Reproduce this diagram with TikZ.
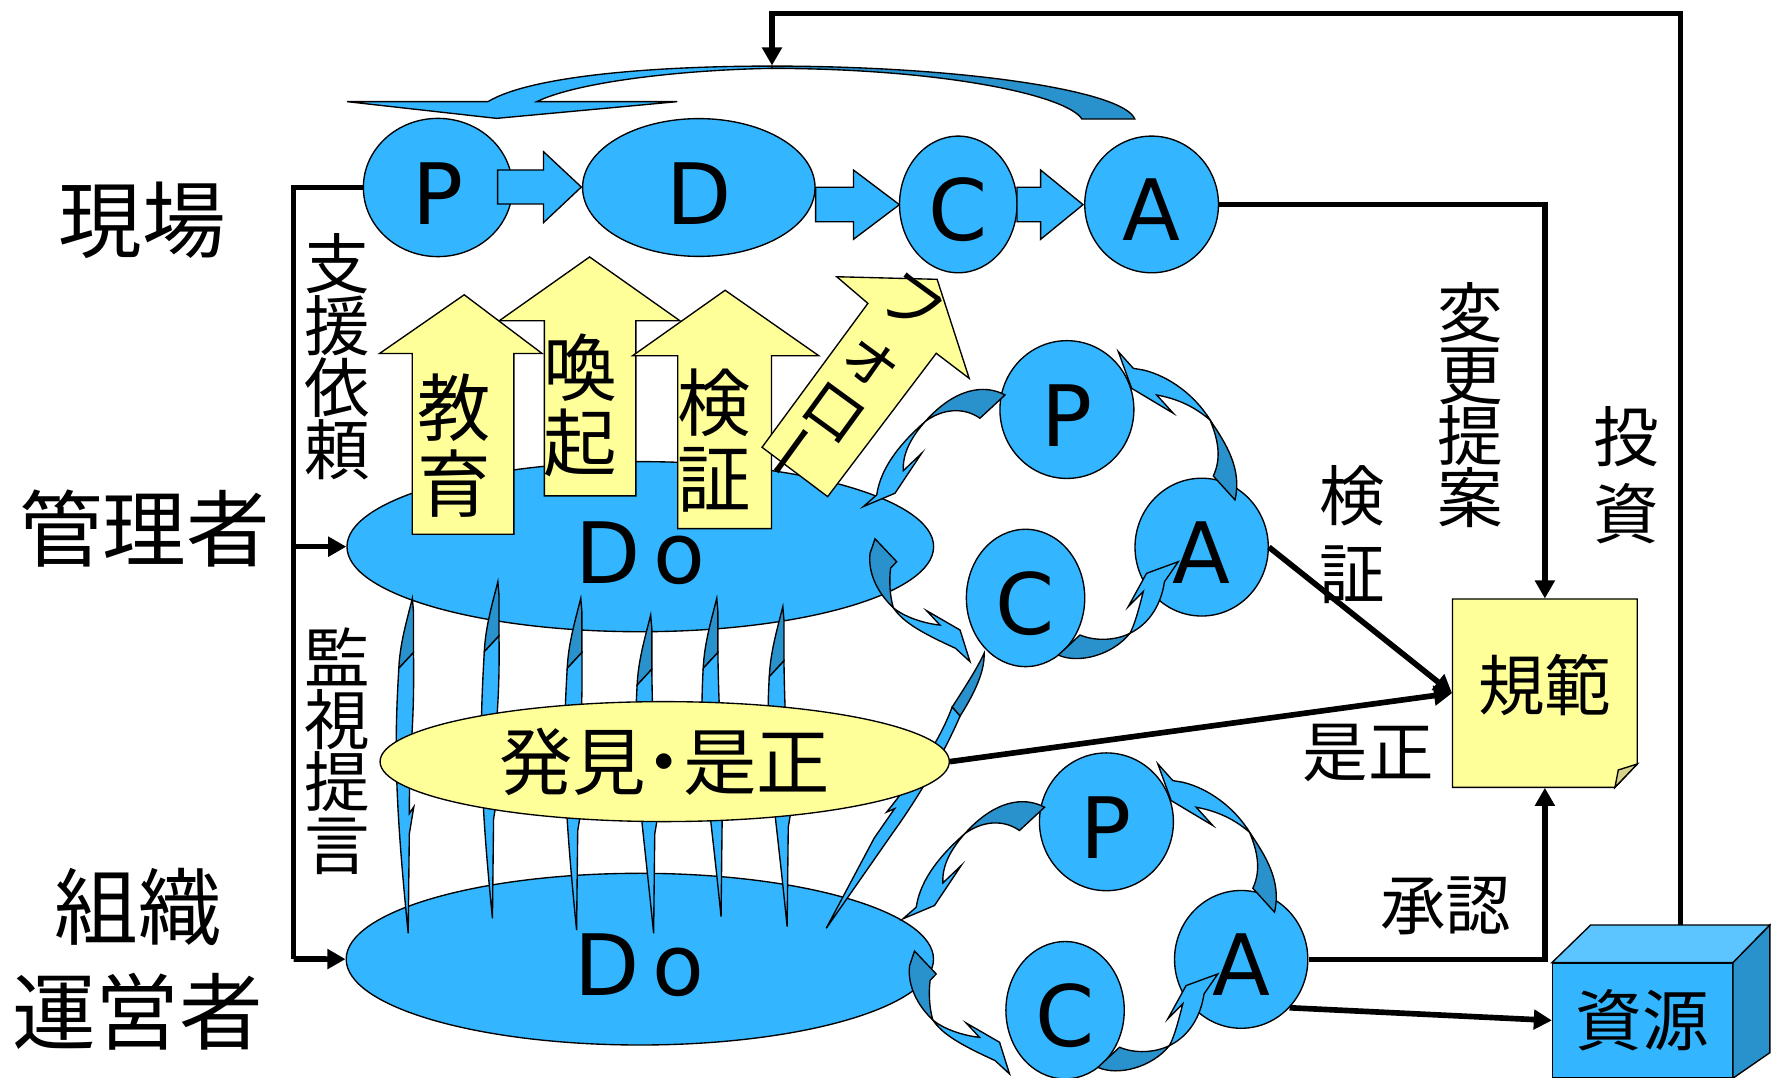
\documentclass[tikz,border=0pt]{standalone}
\usepackage{fontspec}
\newfontfamily\jp{Noto Sans CJK JP}
\newfontfamily\lat{DejaVu Sans}
\usetikzlibrary{shapes.geometric,arrows.meta,calc}

\definecolor{skyb}{RGB}{51,182,255}
\definecolor{deepb}{RGB}{41,145,204}
\definecolor{paleb}{RGB}{92,197,255}
\definecolor{lemon}{RGB}{255,255,153}
\definecolor{foldc}{RGB}{214,211,140}

\newcommand\ltrfont{\lat\fontsize{37.5}{37.5}\selectfont}
\newcommand\ltr[1]{\raisebox{-2.5pt}[\height][\depth]{#1}}

\tikzset{
  ell/.style={ellipse, draw=black, line width=0.6pt, fill=skyb, inner sep=0pt},
  shp/.style={draw=black, line width=0.6pt},
  conn/.style={draw=black, line width=2.5pt},
  arr/.style={conn, -{Triangle[length=8pt,width=8.5pt]}},
  lblL/.style={font=\jp\fontsize{37}{37}\selectfont, inner sep=0pt},
  lblM/.style={font=\jp\fontsize{29}{29}\selectfont, inner sep=0pt, align=center},
  lblA/.style={font=\jp\fontsize{32.5}{33.5}\selectfont, inner sep=0pt, align=center},
}

% thin double sliver joining the two Do discs
\newcommand\spike[4]{%
  \filldraw[shp, fill=deepb] (#1,#2) .. controls ({#1-5},{#2+20}) and ({#1-11},{#2+40}) .. ({#1-12},{#2+62})
     -- ({#1+1},{#2+48}) -- ({#1+1},{#2+12}) -- cycle;
  \filldraw[shp, fill=skyb] ({#1+1},{#2+48}) -- ({#1-12},{#2+62})
     .. controls ({#1-16},{#2+130}) and ({#3-12},{#4-120}) .. (#3,#4)
     -- ({#3+1},{#4-88}) -- ({#3+5},{#4-112}) -- ({#3+1},{#4-106})
     .. controls ({#3+1},{#4-170}) and ({#1+2},{#2+120}) .. ({#1+1},{#2+48}) -- cycle;
}

% one P-C-A ring with its curved arrows
\newcommand\pdcaring[1]{%
  \node[ell, minimum width=59.3pt, minimum height=61pt, font=\ltrfont] (P#1) at (944.6,362.6) {\ltr{P}};
  \node[ell, minimum width=52.4pt, minimum height=60.8pt, font=\ltrfont] (C#1) at (908,529.4) {\ltr{C}};
  \node[ell, minimum width=59pt, minimum height=61pt, font=\ltrfont] (A#1) at (1063.9,484.4) {\ltr{A}};
  % P -> Do
  \filldraw[shp, fill=deepb] (889.8,349.7) .. controls (872,340) and (846,343) .. (819,373.3)
     .. controls (834,362) and (853,360) .. (867.6,370.3) -- cycle;
  \filldraw[shp, fill=skyb] (819,373.3) .. controls (800,390) and (780,412) .. (776.2,438.2)
     -- (764.4,448.5) -- (792.4,436.7) -- (816,401.3) -- (799.8,416.7)
     .. controls (799,402) and (806,388) .. (819,373.3) -- cycle;
  % Do -> C
  \filldraw[shp, fill=deepb] (774.7,477) -- (793.9,497.3) -- (788.5,503)
     .. controls (787,515) and (788,528) .. (790.9,538)
     .. controls (780,528) and (768,510) .. (770.3,490) -- cycle;
  \filldraw[shp, fill=skyb] (790.9,538) .. controls (800,552) and (820,562) .. (846,574)
     -- (858.8,585.8) -- (850,557.8) -- (820.4,540.7) -- (832.2,553.4)
     .. controls (818,552) and (800,546) .. (790.9,538) -- cycle;
  % C -> A
  \filldraw[shp, fill=deepb] (937,580) .. controls (955,588) and (985,580) .. (1000.4,560.7)
     .. controls (988,567) and (970,568) .. (956.2,562.2) -- cycle;
  \filldraw[shp, fill=skyb] (1000.4,560.7) .. controls (1018,552) and (1028,535) .. (1031,515)
     -- (1043.2,497.3) -- (1015.1,507.6) -- (998.9,537.1) -- (1012.2,523.8)
     .. controls (1008,540) and (1005,552) .. (1000.4,560.7) -- cycle;
  % A -> P
  \filldraw[shp, fill=skyb] (990.1,311.3) -- (1003.4,326.1) -- (1012.3,327.6)
     .. controls (1035,333) and (1058,350) .. (1071.3,371.8)
     .. controls (1062,364) and (1048,354) .. (1024.1,349.7)
     -- (1038.8,365.9) -- (1001.9,343.8) -- cycle;
  \filldraw[shp, fill=deepb] (1071.3,371.8) .. controls (1085,392) and (1100,415) .. (1093.4,442.6)
     -- (1074.2,421.4) .. controls (1082,405) and (1078,388) .. (1071.3,371.8) -- cycle;
}

\begin{document}
\begin{tikzpicture}[x=0.5pt,y=-0.5pt]
\fill[white] (0,0) rectangle (1568,954);
\useasboundingbox (0,0) rectangle (1568,954);

% ---- curved return arrow over the top row
\filldraw[shp, fill=skyb] (307.4,90) -- (439.6,104.8) -- (599.6,90) -- (475.2,90)
   .. controls (510,73) and (600,62) .. (683.5,60.5) -- (683.5,58.5)
   .. controls (580,58.5) and (470,67) .. (432,90) -- cycle;
\filldraw[shp, fill=deepb] (683.5,58.5) .. controls (850,58.5) and (995,80) .. (1004.7,105.4)
   -- (957.9,105.4) .. controls (945,85) and (840,61) .. (683.5,60.5) -- cycle;

% ---- top row P D C A
\node[ell, minimum width=66pt, minimum height=61.2pt, font=\ltrfont] (Pt) at (387.7,166) {\ltr{P}};
\node[ell, minimum width=102.9pt, minimum height=61pt, font=\ltrfont] (Dt) at (618.7,166) {\ltr{D}};
\node[ell, minimum width=52pt, minimum height=60.5pt, font=\ltrfont] (Ct) at (848.4,181) {\ltr{C}};
\node[ell, minimum width=59.2pt, minimum height=60.5pt, font=\ltrfont] (At) at (1019.6,181) {\ltr{A}};

\filldraw[shp, fill=skyb] (440.6,150.5) -- (481.2,150.5) -- (481.2,134.3) -- (514.7,165.6)
   -- (481.2,197.1) -- (481.2,180.6) -- (440.6,180.6) -- cycle;
\filldraw[shp, fill=skyb] (722.1,165.8) -- (755.6,165.8) -- (755.6,150.5) -- (796.3,181.2)
   -- (755.6,211.9) -- (755.6,196.3) -- (722.1,196.3) -- cycle;
\filldraw[shp, fill=skyb] (900.4,165.8) -- (921.3,165.8) -- (921.3,150.5) -- (958.9,181.2)
   -- (921.3,211.9) -- (921.3,196.3) -- (900.4,196.3) -- cycle;

% ---- the two Do discs
\node[ell, minimum width=259.7pt, minimum height=75.3pt, font=\ltrfont] (DoT) at (566.9,484)
   {\raisebox{-3pt}[\height][\depth]{D\hspace{.15em}o}\hspace{7pt}};
\node[ell, minimum width=260pt, minimum height=76pt, font=\ltrfont] (DoB) at (566.5,849.2)
   {\raisebox{-2.5pt}[\height][\depth]{D\hspace{.15em}o}\hspace{7pt}};

% ---- slivers between the discs
\spike{365.1}{529.7}{361.4}{826.3}
\spike{440.8}{515}{436}{813}
\spike{514.2}{529.7}{510.5}{823.4}
\spike{576.1}{544.5}{578.7}{826.3}
\spike{634.6}{529.7}{638.4}{811.6}
\spike{693.1}{537.1}{696.9}{820.4}
% long sliver from the middle ring down to the lower disc
\filldraw[shp, fill=deepb] (871.3,578.4) .. controls (872,595) and (862,615) .. (850,634)
   -- (843,626) .. controls (856,606) and (866,590) .. (871.3,578.4) -- cycle;
\filldraw[shp, fill=skyb] (850,634) .. controls (837,664) and (816,702) .. (790,738)
   -- (731.5,821.9) -- (774,742) -- (792,716) -- (785,719)
   .. controls (810,688) and (832,656) .. (843,626) -- cycle;

% ---- detection / correction
\node[ellipse, draw=black, line width=0.6pt, fill=lemon, inner sep=0pt,
      minimum width=252pt, minimum height=53.1pt, font=\jp\fontsize{32.5}{32.5}\selectfont]
      (hakken) at (588.5,674.3) {発見\kern-.25em・\kern-.25em是正};

% ---- yellow upward arrows
\filldraw[shp, fill=lemon] (482,439) -- (482,284) -- (442,284) -- (522,227.5) -- (602,284)
   -- (563,284) -- (563,439) -- cycle;
\filldraw[shp, fill=lemon] (365,473) -- (365,313) -- (336,313) -- (411,261) -- (480,313)
   -- (455,313) -- (455,473) -- cycle;
\filldraw[shp, fill=lemon] (600,468) -- (600,315) -- (560,315) -- (642,257) -- (725,315)
   -- (683,315) -- (683,468) -- cycle;
\filldraw[shp, fill=lemon] (740.8,245) -- (829.7,247.3) -- (858.1,335) -- (828.9,312.8)
   -- (732.8,439.7) -- (674.7,396) -- (768.4,268.6) -- cycle;
\node[lblA] (kyoiku) at (401.9,394.7) {教\\育};
\node[lblA] (kanki) at (513.5,359) {喚\\起};
\node[lblA] (kenshoA) at (632,390) {検\\証};
% vertical column of the slanted arrow, long vowel mark turned upright
\node[font=\jp\fontsize{28}{29.5}\selectfont, align=center, inner sep=0pt, rotate=-36]
      (follow) at (755.6,340.9) {フ\\ォ\\ロ\\\rotatebox{90}{ー}};

% ---- rings
\pdcaring{m}
\begin{scope}[shift={(35,365)}]
  \pdcaring{b}
\end{scope}

% ---- standard sheet
\filldraw[shp, fill=lemon] (1286,530.3) -- (1449.6,530.3) -- (1449.6,676.4) -- (1429.8,697.1)
   -- (1286,697.1) -- cycle;
\filldraw[shp, fill=foldc] (1429.8,697.1) -- (1432.8,681.7) -- (1449.6,676.4) -- cycle;
\node[minimum width=81.8pt, minimum height=83.4pt, inner sep=0pt,
      font=\jp\fontsize{29.5}{29.5}\selectfont] (norm) at (1367.8,613.7)
      {\raisebox{3.5pt}[\height][\depth]{規範}};

% ---- resource cube
\node[draw=black, line width=0.6pt, fill=skyb, minimum width=79.55pt, minimum height=50.55pt,
      inner sep=0pt, font=\jp\fontsize{29.5}{29.5}\selectfont] (res) at (1454.15,903.45) {資源};
\filldraw[shp, fill=paleb] (res.north west) -- (1408.3,819) -- (1567,819) -- (res.north east) -- cycle;
\filldraw[shp, fill=deepb] (res.north east) -- (1567,819) -- (1567,932) -- (res.south east) -- cycle;

% ---- connectors
\coordinate (rtop) at (1488,819);
\coordinate (loopTop) at (683.5,58);
\coordinate (brk1) at (260,166);
\coordinate (brk2) at (260,849);
\draw[arr] (rtop) |- (683.5,12) -- (loopTop);
\draw[conn] (Pt.west) -- (brk1) -- (brk2);
\draw[arr] (brk2) -- (DoB.west);
\draw[arr] (brk1 |- DoT.west) -- (DoT.west);
\draw[arr] (At.east) -| (norm.north);
\draw[arr] (Am.east) -- (norm.west);
\draw[arr] (hakken.east) -- (norm.west);
\draw[arr] (Ab.east) -| (norm.south);
\draw[arr] (Ab.-45) -- (res.west);

% ---- labels
\node[lblL] (genba) at (126,195) {現場};
\node[lblL] (kanri) at (128,468) {管理者};
\node[lblL] (soshiki) at (122.5,803) {組織};
\node[lblL] (unei) at (121.7,895.6) {運営者};
\node[font=\jp\fontsize{29}{27.5}\selectfont, align=center, inner sep=0pt] (shien) at (298.8,316) {支\\援\\依\\頼};
\node[font=\jp\fontsize{29}{27.5}\selectfont, align=center, inner sep=0pt] (kanshi) at (298.8,665) {監\\視\\提\\言};
\node[font=\jp\fontsize{29}{27.3}\selectfont, align=center, inner sep=0pt] (henko) at (1302,358.6) {変\\更\\提\\案};
\node[font=\jp\fontsize{29}{34}\selectfont, align=center, inner sep=0pt] (toshi) at (1439.5,420.5) {投\\資};
\node[font=\jp\fontsize{29}{34.4}\selectfont, align=center, inner sep=0pt] (kensho) at (1197.5,473) {検\\証};
\node[lblM] (zesei) at (1211.5,667) {是正};
\node[lblM] (shonin) at (1280,802) {承認};
\end{tikzpicture}
\end{document}
